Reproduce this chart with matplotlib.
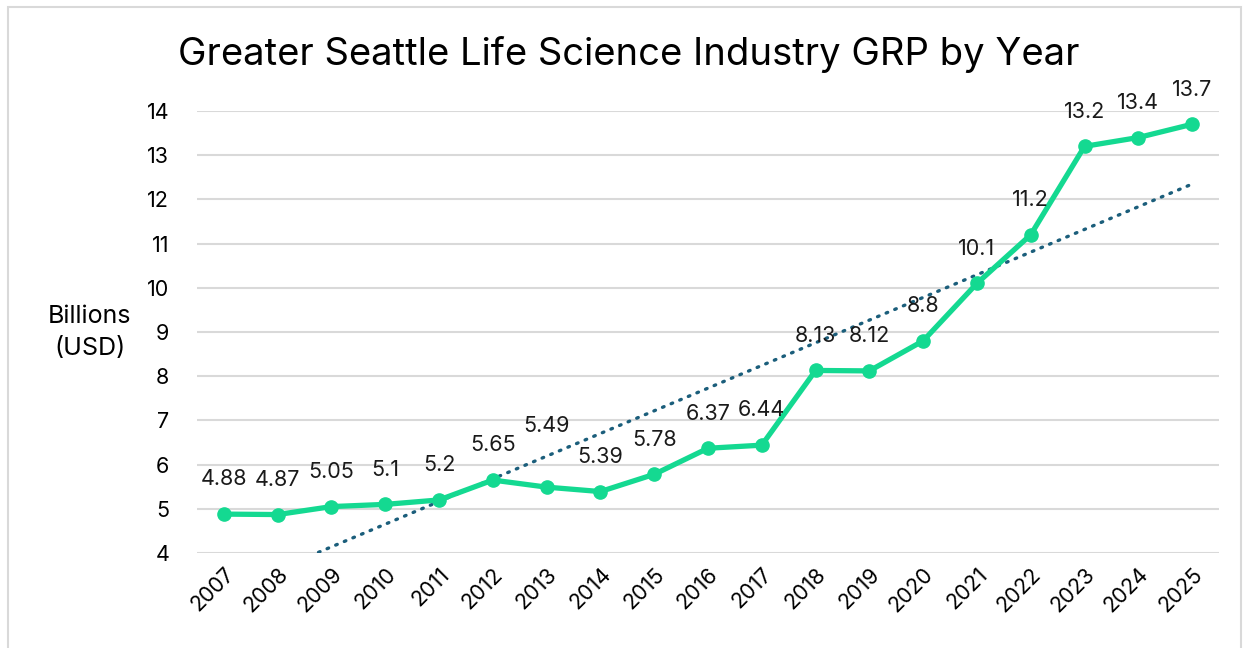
import matplotlib.pyplot as plt
import numpy as np
from matplotlib.patches import Rectangle

# data
years = ['2007', '2008', '2009', '2010', '2011', '2012', '2013', '2014', '2015', '2016',
         '2017', '2018', '2019', '2020', '2021', '2022', '2023', '2024', '2025']
grp = [4.88, 4.87, 5.05, 5.1, 5.2, 5.65, 5.49, 5.39, 5.78, 6.37,
       6.44, 8.13, 8.12, 8.8, 10.1, 11.2, 13.2, 13.4, 13.7]
labels = ['4.88', '4.87', '5.05', '5.1', '5.2', '5.65', '5.49', '5.39', '5.78', '6.37',
          '6.44', '8.13', '8.12', '8.8', '10.1', '11.2', '13.2', '13.4', '13.7']
yticks = [4, 5, 6, 7, 8, 9, 10, 11, 12, 13, 14]

GREEN = '#14D991'
TREND = '#1B5E7B'
GRID = '#D9D9D9'

plt.rcParams['font.family'] = ['Inter', 'DejaVu Sans']

W, H = 1243, 648
fig = plt.figure(figsize=(W / 100, H / 100), dpi=100)
ax = fig.add_axes([197 / W, 1 - 553 / H, (1219 - 197) / W, (553 - 111) / H])

x = np.arange(len(years))

# linear trendline (like Excel)
k, b = np.polyfit(x + 1, grp, 1)
ax.plot(x, k * (x + 1) + b, color=TREND, linewidth=2.4, linestyle=(0, (0.5, 2.3)),
        dash_capstyle='round', zorder=2)

ax.plot(x, grp, color=GREEN, linewidth=3.8, marker='o', markersize=9.5, zorder=3)

# data labels, the 2013 one sits higher in the original
raise_pts = {'2013': 19}
for i, (v, lab) in enumerate(zip(grp, labels)):
    ax.annotate(lab, (i, v), xytext=(0, 25 + raise_pts.get(years[i], 0)),
                textcoords='offset points', ha='center', va='center',
                fontsize=15.5, color='#1a1a1a')

ax.set_xlim(-0.5, len(years) - 0.5)
ax.set_ylim(4, 14)
ax.set_yticks(yticks)
ax.set_xticks(x)
ax.set_xticklabels(years, rotation=45, ha='right', rotation_mode='anchor', fontsize=15.5)
ax.tick_params(axis='y', labelsize=15.5, length=0, pad=20)
ax.tick_params(axis='x', length=0, pad=8)
ax.grid(axis='y', color=GRID, linewidth=1.5)
ax.set_axisbelow(True)
for s in ax.spines.values():
    s.set_visible(False)

fig.text(90 / W, 1 - 333 / H, 'Billions\n(USD)', ha='center', va='center', fontsize=18,
         linespacing=1.5)
fig.text(629 / W, 1 - 55 / H, 'Greater Seattle Life Science Industry GRP by Year',
         ha='center', va='center', fontsize=27.5)

# outer chart frame
fig.patches.append(Rectangle((8 / W, -0.05), (W - 10) / W, 1.05 - 7 / H,
                             transform=fig.transFigure, fill=False,
                             edgecolor='#D9D9D9', linewidth=1.5))

fig.savefig('out.png', dpi=100)
